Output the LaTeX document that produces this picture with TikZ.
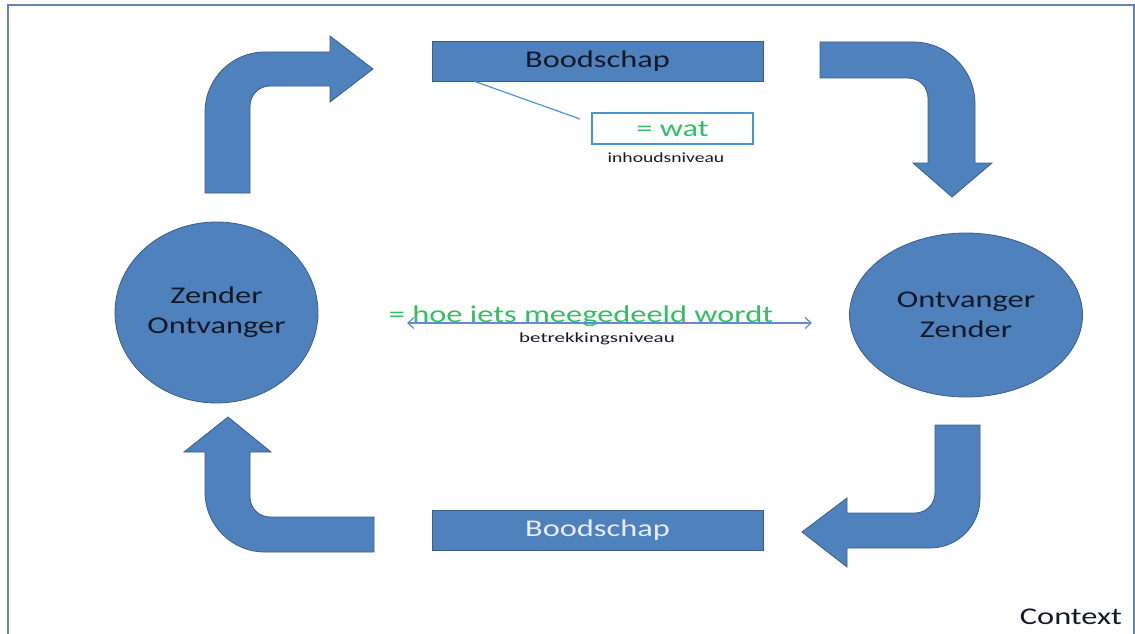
\documentclass[tikz,border=0pt]{standalone}
\usepackage{fontspec}
\setmainfont{Carlito}
\usepackage{graphicx}
\usetikzlibrary{arrows.meta, shapes.geometric}

\definecolor{vlak}{RGB}{79,129,189}
\definecolor{rand}{RGB}{56,93,138}
\definecolor{groen}{RGB}{50,190,100}
\definecolor{lijn}{RGB}{70,150,215}
\definecolor{pijl}{RGB}{100,140,205}
\definecolor{kader}{RGB}{100,130,180}
\definecolor{donker}{RGB}{20,25,40}
\newcommand{\breed}[2][1.35]{\scalebox{#1}[1]{#2}}

\begin{document}
\begin{tikzpicture}[x=1pt, y=-1pt,
  vorm/.style={fill=vlak, draw=rand, line width=0.8pt},
  groot/.style={font=\fontsize{24}{30}\selectfont},
  klein/.style={font=\fontsize{14}{16}\selectfont, text=donker},
  balk/.style={vorm, rectangle, minimum width=331pt, minimum height=40pt, inner sep=0pt, groot},
  bol/.style={vorm, ellipse, inner sep=0pt, groot, text=donker, align=center}]
\useasboundingbox (0,0) rectangle (1135,634);
\draw[kader, line width=2pt] (8,5) rectangle (1134,650);

% bent arrows
\filldraw[vorm] (205,193) -- (205,112) arc[start angle=180, end angle=270, radius=60]
  -- (330,52) -- (330,36) -- (373,69) -- (330,102) -- (330,86)
  -- (270,86) arc[start angle=270, end angle=180, radius=20] -- (250,193) -- cycle;
\filldraw[vorm] (820,42) -- (913,42) arc[start angle=270, end angle=360, radius=62]
  -- (975,163) -- (992,163) -- (952,197) -- (913,163) -- (928,163)
  -- (928,98) arc[start angle=0, end angle=-90, radius=20] -- (820,78) -- cycle;
\filldraw[vorm] (935,425) -- (980,425) -- (980,498) arc[start angle=0, end angle=90, radius=50]
  -- (847,548) -- (847,567) -- (802,532) -- (847,498) -- (847,513)
  -- (915,513) arc[start angle=90, end angle=0, radius=20] -- cycle;
\filldraw[vorm] (374,552) -- (265,552) arc[start angle=90, end angle=180, radius=60]
  -- (205,452) -- (184,452) -- (228,417) -- (271,452) -- (250,452)
  -- (250,497) arc[start angle=180, end angle=90, radius=20] -- (374,517) -- cycle;

% boodschap
\node[balk, text=donker] (boodschapBoven) at (597.5,61) {\breed{Boodschap}};
\node[balk, text=white!92!blue] (boodschapOnder) at (597.5,530) {\breed{Boodschap}};

% zender en ontvanger
\node[bol, minimum width=203pt, minimum height=181pt] (zender) at (216.5,312.5)
  {\breed{Zender}\\\breed{Ontvanger}};
\node[bol, minimum width=233pt, minimum height=164pt] (ontvanger) at (966,315)
  {\breed{Ontvanger}\\\breed{Zender}};

% inhoudsniveau
\node[draw=lijn, line width=2pt, minimum width=161pt, minimum height=31pt, inner sep=0pt,
  groot, text=groen] (wat) at (672.5,128.5) {\breed{= wat}};
\node[klein] (inhoud) at (666,158) {\breed[1.4]{inhoudsniveau}};
\coordinate (watPunt) at (580,119);
\draw[lijn, line width=1.2pt] (boodschapBoven.south west) ++(43,0) -- (watPunt);

% betrekkingsniveau
\coordinate (relLinks) at (407,323);
\coordinate (relRechts) at (812,323);
\node[groot, text=groen, anchor=base] (hoe) at (581,322) {\breed{= hoe iets meegedeeld wordt}};
\draw[pijl, line width=1.2pt, {Straight Barb[length=6pt, width=11pt]}-{Straight Barb[length=6pt, width=11pt]}]
  (relLinks) -- (relRechts);
\node[klein] (betrekking) at (597,339) {\breed[1.5]{betrekkingsniveau}};

\node[groot, text=donker] (context) at (1071,617) {\breed{Context}};
\end{tikzpicture}
\end{document}
